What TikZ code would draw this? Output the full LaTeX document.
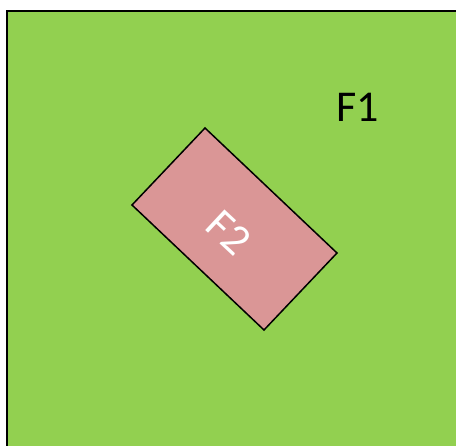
\documentclass[tikz,border=0pt]{standalone}
\usepackage{fontspec}
\setmainfont{Carlito}
\definecolor{fgreen}{RGB}{146,208,80}
\definecolor{fpink}{RGB}{218,150,150}
\tikzset{
  fieldbox/.style={draw=black, line width=2pt, fill=fgreen},
  subbox/.style={draw=black, line width=1.5pt, fill=fpink, line join=miter},
  biglabel/.style={font=\fontsize{44}{44}\selectfont, inner sep=0pt}
}
\begin{document}
\begin{tikzpicture}[x=1pt,y=-1pt]
\useasboundingbox (0,0) rectangle (456,446);
\path[fieldbox] (7,11) rectangle (470,460);
\coordinate (t) at (205,128);
\coordinate (r) at (337,253);
\coordinate (b) at (264,330);
\coordinate (l) at (132,205);
\path[subbox] (t) -- (r) -- (b) -- (l) -- cycle;
\node[biglabel, text=black] (f1) at (358,107) {F1};
\node[biglabel, text=white, rotate=-43] (f2) at (229,233) {F2};
\end{tikzpicture}
\end{document}
